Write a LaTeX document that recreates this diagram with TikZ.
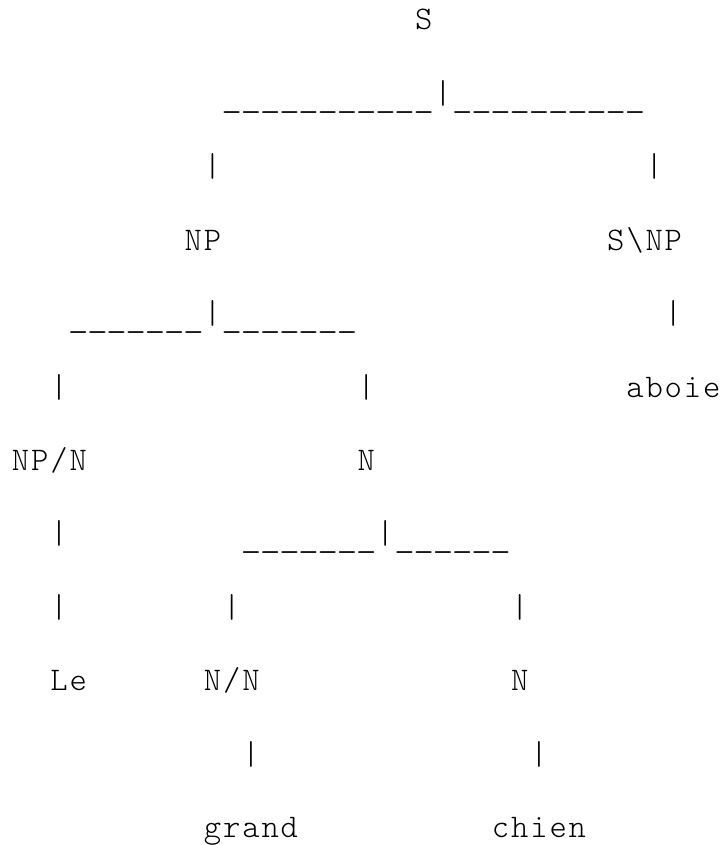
\documentclass[tikz,border=0pt]{standalone}
\usepackage{graphicx}
\newlength\cw
\setlength\cw{19.2pt}
\ExplSyntaxOn
\NewDocumentCommand\mono{m}{\tl_map_inline:nn{#1}{\makebox[\cw][c]{##1}}}
\NewDocumentCommand\unders{m}{\prg_replicate:nn{#1}{\makebox[\cw][c]{\scalebox{1.2}[1]{\_}}}}
\ExplSyntaxOff
% \putt{name}{column}{row}{text}
\newcommand\putt[4]{\node[txt] (#1) at ({11pt+#2*19.2pt}, {-30pt-(#3-1)*73.4pt}) {#4};}
\newcommand\putu[4]{\node[txt,yshift=-4pt] (#1) at ({11pt+#2*19.2pt}, {-30pt-(#3-1)*73.4pt}) {\unders{#4}};}
\tikzset{
  txt/.style={inner sep=0pt, outer sep=0pt, anchor=base west,
    font=\ttfamily\fontseries{l}\fontsize{33}{40}\selectfont, text=black}
}
\begin{document}
\begin{tikzpicture}
\fill[white] (0,0) rectangle (721pt,-845pt);
\useasboundingbox (0,0) rectangle (721pt,-845pt);
% row 1
\putt{S}{21}{1}{\mono{S}}
% row 2
\putu{u1}{11}{2}{11}
\putt{b1}{22}{2}{\mono{|}}
\putu{u2}{23}{2}{10}
% row 3
\putt{b2}{10}{3}{\mono{|}}
\putt{b3}{33}{3}{\mono{|}}
% row 4
\putt{NP}{9}{4}{\mono{NP}}
\putt{SNP}{31}{4}{\mono{S\textbackslash NP}}
% row 5
\putu{u3}{3}{5}{7}
\putt{b4}{10}{5}{\mono{|}}
\putu{u4}{11}{5}{7}
\putt{b5}{34}{5}{\mono{|}}
% row 6
\putt{b6}{2}{6}{\mono{|}}
\putt{b7}{18}{6}{\mono{|}}
\putt{aboie}{32}{6}{\mono{aboie}}
% row 7
\putt{NPN}{0}{7}{\mono{NP/N}}
\putt{N1}{18}{7}{\mono{N}}
% row 8
\putt{b8}{2}{8}{\mono{|}}
\putu{u5}{12}{8}{7}
\putt{b9}{19}{8}{\mono{|}}
\putu{u6}{20}{8}{6}
% row 9
\putt{b10}{2}{9}{\mono{|}}
\putt{b11}{11}{9}{\mono{|}}
\putt{b12}{26}{9}{\mono{|}}
% row 10
\putt{Le}{2}{10}{\mono{Le}}
\putt{NN}{10}{10}{\mono{N/N}}
\putt{N2}{26}{10}{\mono{N}}
% row 11
\putt{b13}{12}{11}{\mono{|}}
\putt{b14}{27}{11}{\mono{|}}
% row 12
\putt{grand}{10}{12}{\mono{grand}}
\putt{chien}{25}{12}{\mono{chien}}
\end{tikzpicture}
\end{document}
